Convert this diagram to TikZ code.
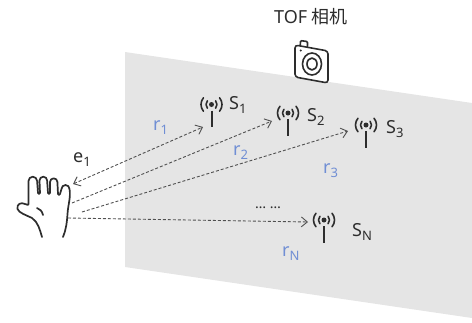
\documentclass[tikz,border=0pt]{standalone}
\usepackage{fontspec}
\setmainfont{Noto Sans}
\newfontfamily\cjk{Noto Sans CJK SC}
\usetikzlibrary{arrows.meta}
\definecolor{plane}{RGB}{229,229,229}
\definecolor{ink}{RGB}{45,45,45}
\definecolor{dist}{RGB}{112,142,212}
\definecolor{raycol}{RGB}{80,80,80}
% lowered, smaller index for labels such as S_1 and r_N
\newcommand\lsub[1]{\raisebox{-4pt}{\fontsize{13}{13}\selectfont #1}}

\begin{document}
\begin{tikzpicture}[x=1pt,y=-1pt,
  lbl/.style={anchor=base west, inner sep=0pt, text=ink, font=\fontsize{18}{18}\selectfont},
  dlbl/.style={lbl, text=dist},
  barb/.tip={Straight Barb[length=6pt,width=10pt,line width=0.9pt]},
  ray/.style={draw=raycol, line width=0.9pt, dash pattern=on 3pt off 2pt, -barb},
  icon/.style={draw=ink, line width=1.6pt, line cap=round, line join=round},
  antenna/.pic={
    \fill[ink] (0,0) circle (2.5);
    \draw[icon] (138:5.5) arc[start angle=138, end angle=222, radius=5.5];
    \draw[icon] (-42:5.5) arc[start angle=-42, end angle=42, radius=5.5];
    \draw[icon] (140:10.5) arc[start angle=140, end angle=220, radius=10.5];
    \draw[icon] (-40:10.5) arc[start angle=-40, end angle=40, radius=10.5];
    \draw[icon, line width=2pt, line cap=butt] (0,6) -- (0,22.5);
  },
]
\useasboundingbox (0,0) rectangle (472,322);

% the sensor plane in perspective
\fill[plane] (125,52) -- (472,103) -- (472,318) -- (125,267) -- cycle;

% title and camera
\node[lbl, anchor=base] (title) at (311,23) {TOF {\cjk 相机}};
\draw[icon, fill=white, rounded corners=3pt] (295,45) -- (328,51) -- (328,83) -- (295,77) -- cycle;
\draw[icon, rounded corners=1pt] (300.2,45.6) -- (300.6,40.6) -- (307.6,41.6) -- (307.4,46.8);
\fill[ink] (300.8,50.5) circle (1.1);
\draw[icon] (312,64) ellipse [x radius=9.5, y radius=11];
\draw[icon] (312,64) ellipse [x radius=5, y radius=6];

% sensors
\coordinate (s1) at (211.5,104.5);
\coordinate (s2) at (288,113);
\coordinate (s3) at (366,125);
\coordinate (sn) at (324,220);
\foreach \s in {s1,s2,s3,sn} \pic at (\s) {antenna};

\node[lbl] (ls1) at (229,109.5) {S\lsub{1}};
\node[lbl] (ls2) at (307,121.5) {S\lsub{2}};
\node[lbl] (ls3) at (386,133) {S\lsub{3}};
\node[lbl] (lsn) at (352,236) {S\lsub{N}};
\node[lbl, anchor=base, font=\fontsize{14}{14}\selectfont] (more) at (268,208) {… …};

% hand
\draw[icon, line width=1.7pt]
  (42,237) .. controls (40,230) and (38,222) .. (32,218)
  .. controls (26,215) and (19,213) .. (17.5,209)
  .. controls (16.5,204) and (21,202) .. (25,204)
  .. controls (27.5,205) and (29,206) .. (28.5,202)
  -- (28.5,181) arc[start angle=180, end angle=360, radius=4.3]
  -- (38,193) arc[start angle=180, end angle=0, radius=1]
  -- (39.5,180.5) arc[start angle=180, end angle=360, radius=3.8]
  -- (48,193) arc[start angle=180, end angle=0, radius=1]
  -- (50,182) arc[start angle=180, end angle=360, radius=3.7]
  -- (58,194) arc[start angle=180, end angle=0, radius=1]
  -- (61.5,189) arc[start angle=180, end angle=360, radius=4]
  .. controls (71,197) and (68,205) .. (67.5,214)
  .. controls (67,222) and (66,230) .. (63,237);
\draw[icon, line width=1.7pt] (37,208) .. controls (40,209) and (42,211) .. (43,215);

% ray end points
\coordinate (h1) at (73,184);
\coordinate (h2) at (72,203);
\coordinate (h3) at (82,212);
\coordinate (h4) at (68,218);
\coordinate (t1) at (203,127);
\coordinate (t2) at (272,121);
\coordinate (t3) at (348,131);
\coordinate (tn) at (308,222);

\draw[ray, barb-barb] (h1) -- (t1);
\draw[ray] (h2) -- (t2);
\draw[ray] (h3) -- (t3);
\draw[ray] (h4) -- (tn);

% distance labels
\node[lbl] (le1) at (73,162) {e\lsub{1}};
\node[dlbl] (lr1) at (153,130) {r\lsub{1}};
\node[dlbl] (lr2) at (233,155) {r\lsub{2}};
\node[dlbl] (lr3) at (323,173) {r\lsub{3}};
\node[dlbl] (lrn) at (282,256) {r\lsub{N}};
\end{tikzpicture}
\end{document}
